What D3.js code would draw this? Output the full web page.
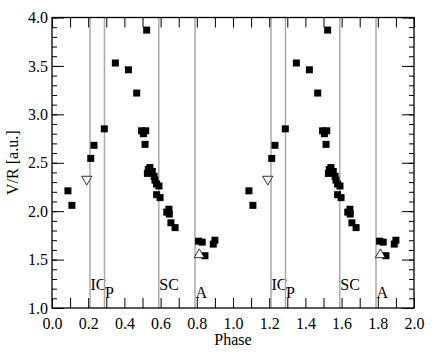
<!DOCTYPE html>
<html>
<head>
<meta charset="utf-8">
<script src="https://cdn.jsdelivr.net/npm/d3@7"></script>
<style>
  body { margin: 0; background: #fff; }
  svg text { font-family: "Liberation Serif", "Times New Roman", serif !important; fill: #000; }
</style>
</head>
<body>
<div id="chart"></div>
<script>
// V/R measurements, phase 0..1 (repeated for a second cycle)
var sqPhase = [0.088, 0.110, 0.214, 0.232, 0.289, 0.350, 0.422, 0.468, 0.495, 0.505, 0.518, 0.514, 0.523,
  0.527, 0.532, 0.541, 0.554, 0.564, 0.569, 0.578, 0.591, 0.578, 0.597, 0.634, 0.646, 0.648, 0.657, 0.680,
  0.810, 0.830, 0.845, 0.891, 0.900];
var sqVR = [2.21, 2.06, 2.545, 2.68, 2.85, 3.53, 3.46, 3.22, 2.83, 2.80, 2.83, 2.69, 3.87,
  2.39, 2.43, 2.45, 2.41, 2.36, 2.32, 2.28, 2.26, 2.17, 2.14, 1.99, 2.02, 1.97, 1.88, 1.83,
  1.69, 1.68, 1.54, 1.66, 1.70];
// open triangles
var triPhase = [0.192, 0.814];
var triVR = [2.33, 1.55];
var triDir = ["down", "up"];
// contact phases
var evPhase = [0.21, 0.29, 0.59, 0.79];
var evLabel = ["IC", "P", "SC", "A"];
var evLabelY = [1.185, 1.10, 1.185, 1.10];
var cycles = [0, 1];

var W = 436, H = 363;
var margin = {top: 17.5, right: 22, bottom: 55, left: 52};
var w = W - margin.left - margin.right;
var h = H - margin.top - margin.bottom;

var svg = d3.select("#chart").append("svg")
  .attr("width", W)
  .attr("height", H);
var g = svg.append("g")
  .attr("transform", "translate(" + margin.left + "," + margin.top + ")");

var x = d3.scaleLinear().domain([0, 2]).range([0, w]);
var y = d3.scaleLinear().domain([1, 4]).range([h, 0]);

// vertical event lines
cycles.forEach(function(c) {
  evPhase.forEach(function(p, i) {
    g.append("line")
      .attr("x1", x(p + c)).attr("x2", x(p + c))
      .attr("y1", 0).attr("y2", h)
      .attr("stroke", "#aaa")
      .attr("stroke-width", 1.5);
    g.append("text")
      .attr("x", x(p + c) + 0.5)
      .attr("y", y(evLabelY[i]))
      .attr("font-size", 16)
      .text(evLabel[i]);
  });
});

// axes
var xTicks = d3.range(0, 2.001, 0.1);
var yMinor = d3.range(1, 4.001, 0.1);
var yMajor = d3.range(1, 4.001, 0.5);

g.append("g")
  .attr("transform", "translate(0," + h + ")")
  .call(d3.axisTop(x).tickValues(xTicks).tickSize(10).tickFormat(""));
g.append("g")
  .attr("transform", "translate(0," + h + ")")
  .call(d3.axisBottom(x).tickValues(d3.range(0, 2.001, 0.2)).tickSize(0).tickPadding(10).tickFormat(d3.format(".1f")));
g.append("g")
  .call(d3.axisBottom(x).tickValues(xTicks).tickSize(10).tickFormat(""));

g.append("g")
  .call(d3.axisRight(y).tickValues(yMinor).tickSize(5).tickFormat(""));
g.append("g")
  .call(d3.axisRight(y).tickValues(yMajor).tickSize(12).tickFormat(""));
g.append("g")
  .call(d3.axisLeft(y).tickValues(yMajor).tickSize(0).tickPadding(4).tickFormat(d3.format(".1f")));
g.append("g")
  .attr("transform", "translate(" + w + ",0)")
  .call(d3.axisLeft(y).tickValues(yMinor).tickSize(5).tickFormat(""));
g.append("g")
  .attr("transform", "translate(" + w + ",0)")
  .call(d3.axisLeft(y).tickValues(yMajor).tickSize(12).tickFormat(""));

g.selectAll(".domain").remove();
g.selectAll("g").attr("font-family", null).attr("font-size", 16);
g.selectAll(".tick line").attr("stroke", "#000").attr("stroke-width", 1);

g.append("rect")
  .attr("width", w).attr("height", h)
  .attr("fill", "none")
  .attr("stroke", "#000")
  .attr("stroke-width", 1.3);

// points
var sq = 7;
cycles.forEach(function(c) {
  g.append("g").selectAll("rect")
    .data(d3.range(sqPhase.length))
    .enter().append("rect")
    .attr("x", function(i) { return x(sqPhase[i] + c) - sq / 2; })
    .attr("y", function(i) { return y(sqVR[i]) - sq / 2; })
    .attr("width", sq).attr("height", sq)
    .attr("fill", "#000");

  g.append("g").selectAll("path")
    .data(d3.range(triPhase.length))
    .enter().append("path")
    .attr("d", d3.symbol().type(d3.symbolTriangle).size(45))
    .attr("transform", function(i) {
      return "translate(" + x(triPhase[i] + c) + "," + y(triVR[i]) + ")" +
        (triDir[i] == "down" ? " rotate(180)" : "");
    })
    .attr("fill", "#fff")
    .attr("stroke", "#000")
    .attr("stroke-width", 0.8);
});

// labels
svg.append("text")
  .attr("x", margin.left + w / 2)
  .attr("y", 345)
  .attr("text-anchor", "middle")
  .attr("font-size", 16)
  .text("Phase");
svg.append("text")
  .attr("transform", "translate(18," + (margin.top + h / 2) + ") rotate(-90)")
  .attr("text-anchor", "middle")
  .attr("font-size", 16)
  .text("V/R [a.u.]");
</script>
</body>
</html>
